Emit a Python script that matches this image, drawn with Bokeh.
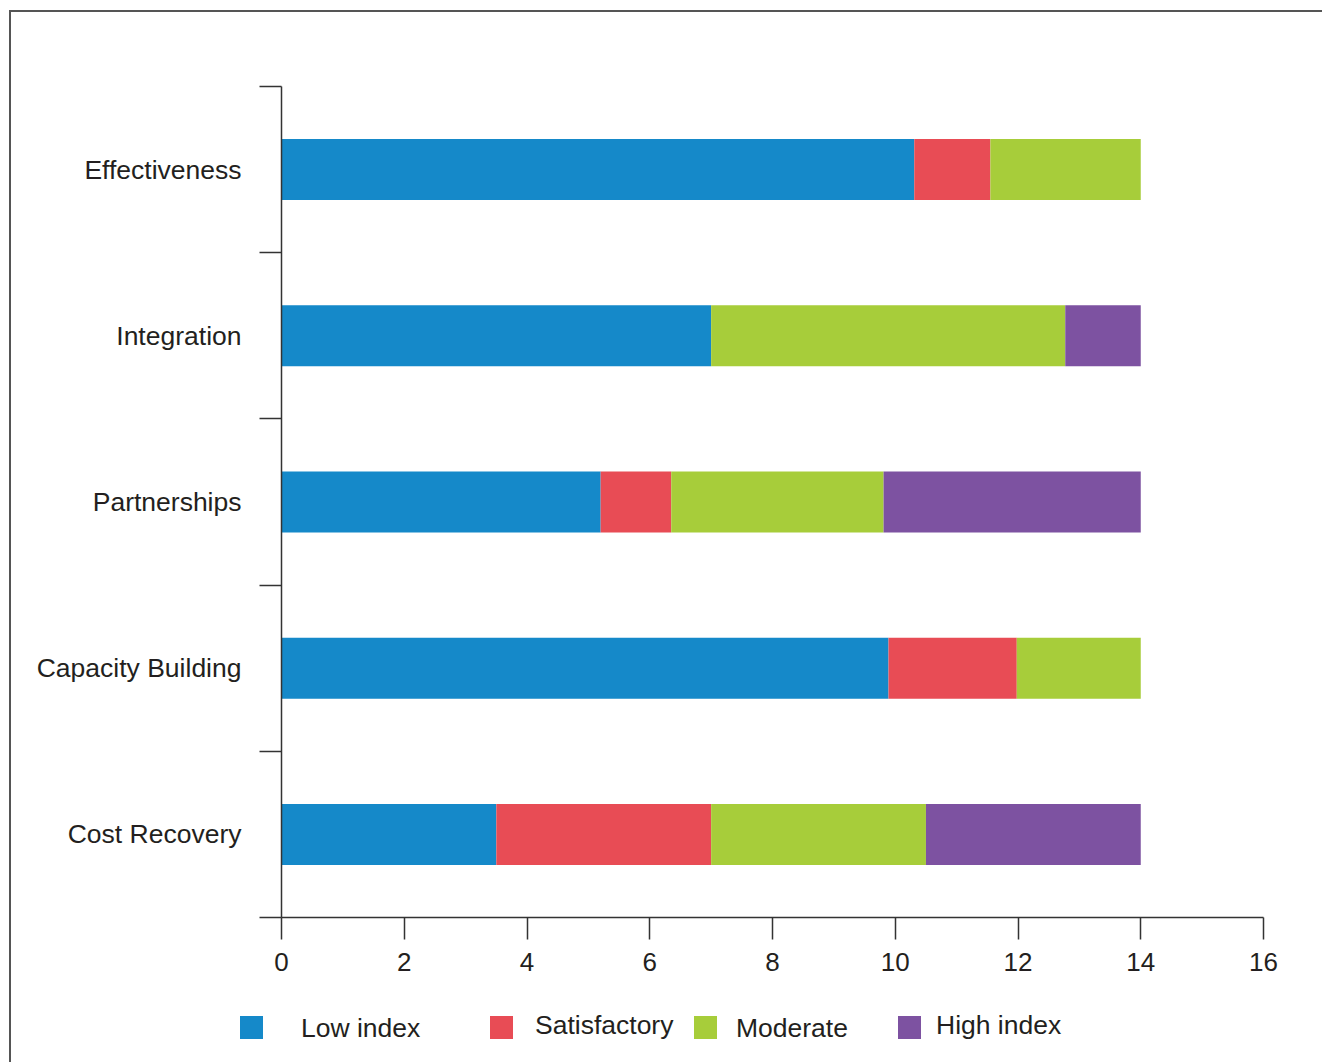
from bokeh.plotting import figure
from bokeh.models import ColumnDataSource, FixedTicker, Range1d, Div
from bokeh.layouts import column
from bokeh.embed import file_html
from bokeh.resources import INLINE

# ---- data ----
categories = ["Effectiveness", "Integration", "Partnerships", "Capacity Building", "Cost Recovery"]
low_index = [10.31, 7.0, 5.2, 9.89, 3.5]
satisfactory = [1.24, 0.0, 1.15, 2.09, 3.5]
moderate = [2.45, 5.77, 3.46, 2.02, 3.5]
high_index = [0.0, 1.23, 4.19, 0.0, 3.5]
series_names = ["Low index", "Satisfactory", "Moderate", "High index"]
x_ticks = [0, 2, 4, 6, 8, 10, 12, 14, 16]

colors = ["#1589C9", "#E84C55", "#A7CD3A", "#7D52A1"]
FONT = "Liberation Sans"
TXT = "#231F20"
AX = "#333333"

n = len(categories)
ypos = [n - i - 0.5 for i in range(n)]
series = {"Low index": low_index, "Satisfactory": satisfactory,
          "Moderate": moderate, "High index": high_index}
source = ColumnDataSource(dict(y=ypos, cat=categories, **series))

W = 1311
p = figure(width=W, height=973, output_backend="svg", toolbar_location=None,
           x_range=Range1d(0, 16), y_range=Range1d(0, n))
p.min_border_left = 270
p.min_border_top = 74
p.min_border_right = 59
p.min_border_bottom = 68
p.outline_line_color = None
p.xgrid.visible = False
p.ygrid.visible = False

rs = p.hbar_stack(series_names, y="y", height=0.367, color=colors, line_color=None,
                  source=source)

# x axis
xa = p.xaxis[0]
xa.ticker = FixedTicker(ticks=x_ticks, minor_ticks=[])
xa.major_tick_out = 22
xa.major_tick_in = 0
xa.axis_line_color = AX
xa.axis_line_width = 1.5
xa.major_tick_line_color = AX
xa.major_tick_line_width = 1.5
xa.major_label_text_font = FONT
xa.major_label_text_font_size = "26px"
xa.major_label_text_color = TXT
xa.major_label_standoff = 13

# y axis: labels at centres, ticks at boundaries
ya = p.yaxis[0]
ya.ticker = FixedTicker(ticks=ypos, minor_ticks=list(range(n + 1)))
ya.major_label_overrides = {float(y): c for y, c in zip(ypos, categories)}
ya.major_tick_line_color = None
ya.major_tick_out = 0
ya.major_tick_in = 0
ya.minor_tick_out = 22
ya.minor_tick_in = 0
ya.minor_tick_line_color = AX
ya.minor_tick_line_width = 1.5
ya.axis_line_color = AX
ya.axis_line_width = 1.5
ya.major_label_text_font = FONT
ya.major_label_text_font_size = "26.5px"
ya.major_label_text_color = TXT
ya.major_label_standoff = 18

# legend strip below the chart (HTML, so item spacing can follow the original)
sq_left = [229, 479, 683, 887]
txt_left = [290, 524, 725, 925]
txt_top = [13, 10, 13, 10]
parts = []
for name, c, sx, tx, ty in zip(series_names, colors, sq_left, txt_left, txt_top):
    parts.append(
        f'<span style="position:absolute;left:{sx}px;top:31px;width:23px;height:23px;'
        f'background:{c};"></span>'
        f'<span style="position:absolute;left:{tx}px;top:{ty + 15}px;line-height:30px;'
        f'font-family:\'{FONT}\';font-size:26.5px;color:{TXT};white-space:nowrap;">{name}</span>')
legend_div = Div(text='<div style="position:relative;width:1311px;height:77px;">'
                 + "".join(parts) + "</div>",
                 width=W, height=77, margin=(0, 0, 0, 0))

layout = column(p, legend_div, spacing=0)
layout.styles = {"margin": "10px 0 0 9px",
                 "border-left": "2px solid #555555", "border-top": "2px solid #555555"}

open("out.html", "w").write(file_html(layout, INLINE))
